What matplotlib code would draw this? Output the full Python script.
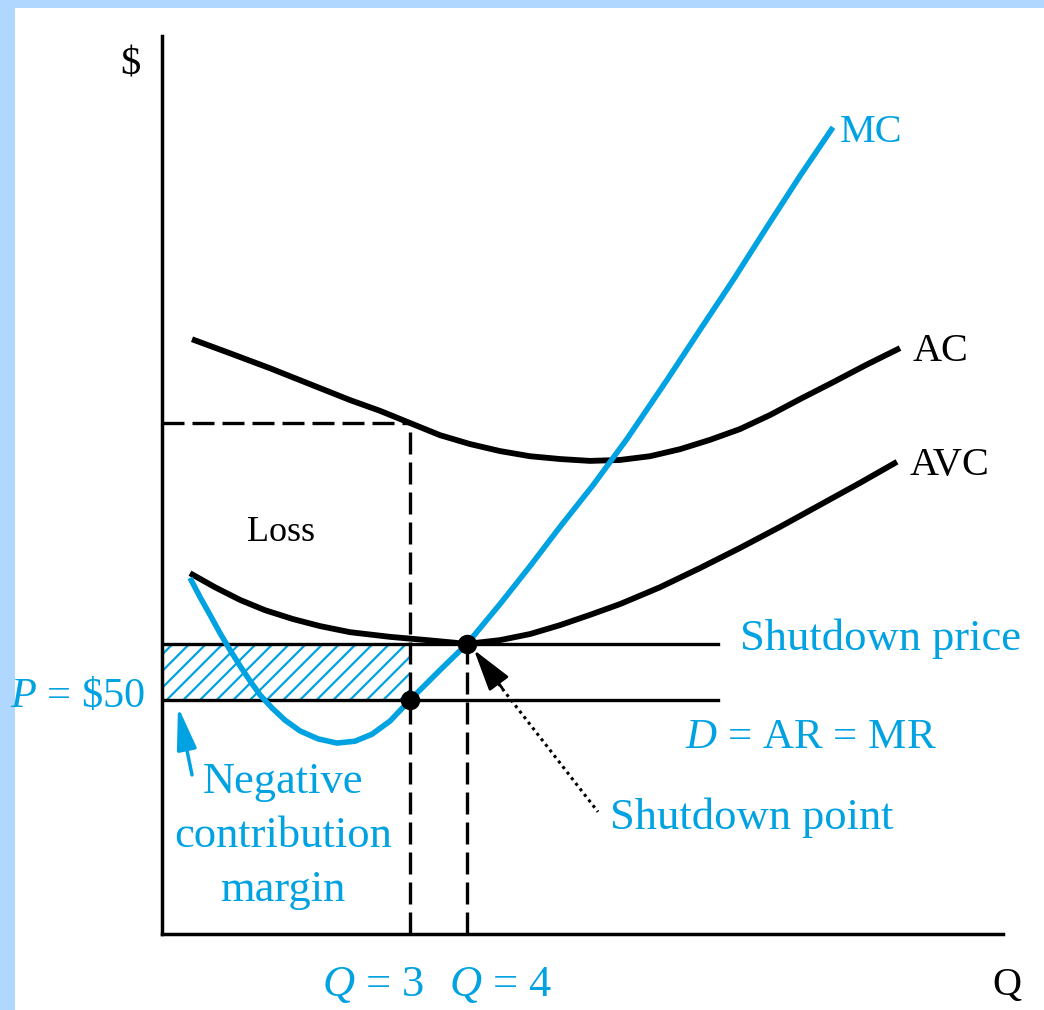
import numpy as np
import matplotlib
matplotlib.use("Agg")
from matplotlib import pyplot as plt
from matplotlib.patches import Rectangle

plt.rcParams["mathtext.fontset"] = "custom"
plt.rcParams["mathtext.it"] = "Liberation Serif:italic"
plt.rcParams["mathtext.rm"] = "Liberation Serif"
plt.rcParams["hatch.linewidth"] = 1.6

# output on the horizontal axis (arbitrary units), cost in $ on the vertical
ac_q = [3.0, 6.8, 10.8, 14.8, 18.8, 21.8, 24.8, 27.8, 30.8, 33.8, 36.8, 39.8,
        42.8, 45.8, 48.8, 51.8, 54.8, 57.8, 60.8, 63.8, 67.1, 70.4, 73.8]
ac_cost = [127.1, 124.1, 120.9, 117.5, 114.1, 111.8, 109.2, 106.6, 104.7, 103.2, 102.1, 101.5,
           101.1, 101.3, 102.1, 103.6, 105.6, 107.9, 110.9, 114.3, 117.9, 121.6, 125.2]

avc_q = [2.8, 5.3, 7.8, 10.3, 13.1, 15.8, 18.8, 22.8, 26.5, 30.5, 33.8, 36.8,
         39.8, 42.8, 45.8, 49.8, 53.8, 57.8, 61.8, 65.8, 69.8, 73.5]
avc_cost = [77.1, 74.1, 71.4, 69.2, 67.3, 65.8, 64.5, 63.5, 62.8, 62.0, 62.8, 64.1,
            66.0, 68.2, 70.5, 74.1, 78.2, 82.5, 87.0, 91.7, 96.4, 100.9]

mc_q = [2.8, 3.8, 4.8, 5.8, 6.8, 7.8, 8.8, 9.8, 11.0, 12.3, 13.8, 15.6, 17.5, 19.3, 21.0,
        22.8, 24.8, 27.8, 30.5, 33.8, 36.8, 39.8, 43.1, 46.5, 50.5, 53.8, 57.1, 60.5, 63.8, 67.1]
mc_cost = [76.1, 72.0, 68.2, 64.3, 60.7, 57.3, 54.1, 51.1, 48.3, 45.7, 43.4, 41.7, 40.8, 41.2, 42.7,
           45.5, 50.0, 56.4, 62.0, 70.5, 78.6, 87.0, 95.9, 105.8, 118.4, 129.1, 139.7, 151.1, 162.0, 172.4]

price = 50.0            # P = $50
shutdown_price = 62.0   # minimum of AVC
q3 = 24.8               # Q = 3
q4 = 30.5               # Q = 4
ac_at_q3 = 109.2
line_end = 55.6
x_max = 84.1
y_max = 191.9

blue = "#00a2e1"
serif = ["Liberation Serif", "DejaVu Serif"]

fig = plt.figure(figsize=(10.44, 10.10), dpi=100)
fig.patch.set_facecolor("#afd7ff")
fig.patches.append(Rectangle((15 / 1044, 0), 1, 1 - 8 / 1010, transform=fig.transFigure,
                             facecolor="white", edgecolor="none", zorder=-10))

ax = fig.add_axes([162 / 1044, 76 / 1010, (1003 - 162) / 1044, (934 - 36) / 1010])
ax.set_facecolor("none")
ax.set_xlim(0, x_max)
ax.set_ylim(0, y_max)
ax.set_xticks([])
ax.set_yticks([])
for side in ["top", "right"]:
    ax.spines[side].set_visible(False)
for side in ["left", "bottom"]:
    ax.spines[side].set_linewidth(2.5)

# hatched strip between the price and the shutdown price
ax.add_patch(Rectangle((0, price), q3, shutdown_price - price, facecolor="none",
                       edgecolor=blue, hatch="//", linewidth=0, zorder=1))

# price lines
ax.plot([0, line_end], [shutdown_price, shutdown_price], color="black", lw=2.4, zorder=2)
ax.plot([0, line_end], [price, price], color="black", lw=2.4, zorder=2)

# dashed guides
ax.plot([0, q3], [ac_at_q3, ac_at_q3], color="black", lw=2.4, dashes=(6.6, 2.4), zorder=2)
ax.plot([q3, q3], [0, ac_at_q3], color="black", lw=2.4, dashes=(6.6, 2.4), zorder=2)
ax.plot([q4, q4], [0, shutdown_price], color="black", lw=2.4, dashes=(6.6, 2.4), zorder=2)

# cost curves
ax.plot(ac_q, ac_cost, color="black", lw=4.2, solid_capstyle="butt", solid_joinstyle="round", zorder=3)
ax.plot(avc_q, avc_cost, color="black", lw=4.2, solid_capstyle="butt", solid_joinstyle="round", zorder=3)
ax.plot(mc_q, mc_cost, color=blue, lw=4.0, solid_capstyle="butt", solid_joinstyle="round", zorder=4)

ax.plot([q3, q4], [price, shutdown_price], "o", color="black", markersize=13, zorder=5)

# arrows
ax.annotate("", xy=(1.6, 48.6), xytext=(3.0, 34.0),
            arrowprops=dict(arrowstyle="-|>,head_length=2.6,head_width=0.6", color=blue,
                            lw=2.5, shrinkA=0, shrinkB=0), annotation_clip=False)
ax.plot([33.6, 43.6], [53.6, 26.1], color="black", lw=2.2, linestyle=(0, (1, 1.3)), zorder=3)
ax.annotate("", xy=(31.2, 60.7), xytext=(34.0, 52.6),
            arrowprops=dict(arrowstyle="-|>,head_length=2.6,head_width=0.75", color="black",
                            lw=2.0, shrinkA=0, shrinkB=0))

# labels
black_fs = 29
blue_fs = 32
ax.text(-3.2, 185.7, "$", color="black", fontsize=black_fs, family=serif, ha="center", va="center")
ax.text(84.5, -10.9, "Q", color="black", fontsize=black_fs, family=serif, ha="center", va="center")
ax.text(67.8, 171.2, "MC", color=blue, fontsize=black_fs, family=serif, va="center")
ax.text(75.1, 124.4, "AC", color="black", fontsize=black_fs, family=serif, va="center")
ax.text(74.8, 100.2, "AVC", color="black", fontsize=black_fs, family=serif, va="center")
ax.text(8.5, 85.7, "Loss", color="black", fontsize=26, family=serif, va="center")
ax.text(57.8, 63.2, "Shutdown price", color=blue, fontsize=blue_fs, family=serif, va="center")
ax.text(52.3, 41.9, "$D$ = AR = MR", color=blue, fontsize=31, family=serif, va="center")
ax.text(-1.7, 50.6, "$P$ = \\$50", color=blue, fontsize=30.5, family=serif, ha="right", va="center")
ax.text(44.8, 24.8, "Shutdown point", color=blue, fontsize=blue_fs, family=serif, va="center")
ax.text(12.1, 20.9, "Negative\ncontribution\nmargin", color=blue, fontsize=blue_fs, family=serif,
        ha="center", va="center", linespacing=1.45)
ax.text(q3 - 3.7, -10.9, "$Q$ = 3", color=blue, fontsize=blue_fs, family=serif, ha="center", va="center")
ax.text(q4 + 3.3, -10.9, "$Q$ = 4", color=blue, fontsize=blue_fs, family=serif, ha="center", va="center")

fig.savefig("out.png", dpi=100)
